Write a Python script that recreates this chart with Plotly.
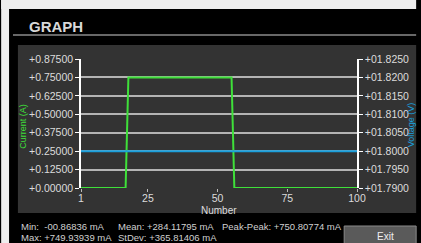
import plotly.graph_objects as go

# ---- data ----
sample_number = list(range(1, 101))
current_a = [
    0.0, 0.0, 0.0, 0.0, 0.0, 0.0, 0.0, 0.0, 0.0, 0.0,
    0.0, 0.0, 0.0, 0.0, 0.0, 0.0, 0.0, 0.7499, 0.7499, 0.7499,
    0.7499, 0.7499, 0.7499, 0.7499, 0.7499, 0.7499, 0.7499, 0.7499, 0.7499, 0.7499,
    0.7499, 0.7499, 0.7499, 0.7499, 0.7499, 0.7499, 0.7499, 0.7499, 0.7499, 0.7499,
    0.7499, 0.7499, 0.7499, 0.7499, 0.7499, 0.7499, 0.7499, 0.7499, 0.7499, 0.7499,
    0.7499, 0.7499, 0.7499, 0.7499, 0.7499, 0.0, 0.0, 0.0, 0.0, 0.0,
    0.0, 0.0, 0.0, 0.0, 0.0, 0.0, 0.0, 0.0, 0.0, 0.0,
    0.0, 0.0, 0.0, 0.0, 0.0, 0.0, 0.0, 0.0, 0.0, 0.0,
    0.0, 0.0, 0.0, 0.0, 0.0, 0.0, 0.0, 0.0, 0.0, 0.0,
    0.0, 0.0, 0.0, 0.0, 0.0, 0.0, 0.0, 0.0, 0.0, 0.0,
]
voltage_v = [1.8] * 100

x_tickvals = [1, 25, 50, 75, 100]
left_tickvals = [0.0, 0.125, 0.25, 0.375, 0.5, 0.625, 0.75, 0.875]
left_ticktext = ["+0.00000", "+0.12500", "+0.25000", "+0.37500",
                 "+0.50000", "+0.62500", "+0.75000", "+0.87500"]
right_tickvals = [1.790, 1.795, 1.800, 1.805, 1.810, 1.815, 1.820, 1.825]
right_ticktext = ["+01.7900", "+01.7950", "+01.8000", "+01.8050",
                  "+01.8100", "+01.8150", "+01.8200", "+01.8250"]

stats_line1 = [("Min:  -00.86836 mA", 18), ("Mean: +284.11795 mA", 116), ("Peak-Peak: +750.80774 mA", 222)]
stats_line2 = [("Max: +749.93939 mA", 18), ("StDev: +365.81406 mA", 116)]

# ---- layout geometry (pixels) ----
W, H = 421, 243
L, R, T, B = 81, 60, 59, 55
PW, PH = W - L - R, H - T - B


def px(x):
    return (x - L) / PW


def py(y):
    return (H - B - y) / PH


FONT = "Liberation Sans"
GREEN = "#3fe03a"
BLUE = "#1a9fdc"
LABEL = "#dcdcdc"

fig = go.Figure()
fig.add_trace(go.Scatter(x=sample_number, y=current_a, mode="lines",
                         line=dict(color=GREEN, width=2), yaxis="y", name="Current"))
fig.add_trace(go.Scatter(x=sample_number, y=voltage_v, mode="lines",
                         line=dict(color=BLUE, width=2), yaxis="y2", name="Voltage"))

shapes = [
    # light border of the screenshot (left and top)
    dict(type="rect", xref="paper", yref="paper", x0=px(0), x1=px(8), y0=py(243), y1=py(0),
         fillcolor="#eeeeee", line=dict(width=0), layer="below"),
    dict(type="rect", xref="paper", yref="paper", x0=px(0), x1=px(421), y0=py(9), y1=py(0),
         fillcolor="#eeeeee", line=dict(width=0), layer="below"),
    # title separator
    dict(type="line", xref="paper", yref="paper", x0=px(12), x1=px(421), y0=py(35), y1=py(35),
         line=dict(color="#d0d0d0", width=1)),
    # gray panel
    dict(type="rect", xref="paper", yref="paper", x0=px(17), x1=px(421), y0=py(213), y1=py(45),
         fillcolor="#333333", line=dict(width=0), layer="below"),
    # exit button
    dict(type="rect", xref="paper", yref="paper", x0=px(348), x1=px(421), y0=py(244), y1=py(226),
         fillcolor="#5a5a5a", line=dict(color="#8a8a8a", width=1), layer="below"),
]

annotations = [
    dict(text="<b>GRAPH</b>", xref="paper", yref="paper", x=px(26), y=py(26),
         xanchor="left", yanchor="middle", showarrow=False,
         font=dict(family=FONT, size=15, color="#d8d8d8")),
    dict(text="Current (A)", xref="paper", yref="paper", x=px(22), y=py(126),
         xanchor="center", yanchor="middle", showarrow=False, textangle=-90,
         font=dict(family=FONT, size=9, color=GREEN)),
    dict(text="Voltage (V)", xref="paper", yref="paper", x=px(416), y=py(125),
         xanchor="center", yanchor="middle", showarrow=False, textangle=-90,
         font=dict(family=FONT, size=9, color=BLUE)),
    dict(text="Number", xref="paper", yref="paper", x=px(221), y=py(210),
         xanchor="center", yanchor="middle", showarrow=False,
         font=dict(family=FONT, size=10, color=LABEL)),
    dict(text="Exit", xref="paper", yref="paper", x=px(390), y=py(236),
         xanchor="center", yanchor="middle", showarrow=False,
         font=dict(family=FONT, size=10, color="#f0f0f0")),
]
for txt, xpos in stats_line1:
    annotations.append(dict(text=txt, xref="paper", yref="paper", x=px(xpos), y=py(226),
                            xanchor="left", yanchor="middle", showarrow=False,
                            font=dict(family=FONT, size=9.5, color="#d0d0d0")))
for txt, xpos in stats_line2:
    annotations.append(dict(text=txt, xref="paper", yref="paper", x=px(xpos), y=py(237.5),
                            xanchor="left", yanchor="middle", showarrow=False,
                            font=dict(family=FONT, size=9.5, color="#d0d0d0")))

fig.update_layout(
    width=W, height=H,
    margin=dict(l=L, r=R, t=T, b=B, pad=0),
    paper_bgcolor="#000000",
    plot_bgcolor="rgba(0,0,0,0)",
    showlegend=False,
    shapes=shapes,
    annotations=annotations,
    font=dict(family=FONT, size=10.5, color=LABEL),
    xaxis=dict(range=[1, 100], tickvals=x_tickvals, showgrid=False, zeroline=False,
               showline=False, ticks="outside", ticklen=3, tickcolor="#bbbbbb",
               ticklabelstandoff=-3,
               tickfont=dict(family=FONT, size=10.5, color=LABEL)),
    yaxis=dict(range=[0, 0.875], tickvals=left_tickvals, ticktext=left_ticktext,
               showgrid=True, gridcolor="#b4b4b4", gridwidth=1.5, zeroline=False,
               showline=True, linecolor="#ffffff", linewidth=1.5,
               ticks="outside", ticklen=4, tickcolor="#ffffff",
               tickfont=dict(family=FONT, size=10.5, color=LABEL)),
    yaxis2=dict(range=[1.79, 1.825], tickvals=right_tickvals, ticktext=right_ticktext,
                overlaying="y", side="right", showgrid=False, zeroline=False,
                showline=True, linecolor="#ffffff", linewidth=1.5,
                ticks="outside", ticklen=4, tickcolor="#ffffff",
                tickfont=dict(family=FONT, size=10.5, color=LABEL)),
)

fig.write_html("out.html", config={"displayModeBar": False},
               post_script="document.body.style.margin='0';document.body.style.overflow='hidden';")
